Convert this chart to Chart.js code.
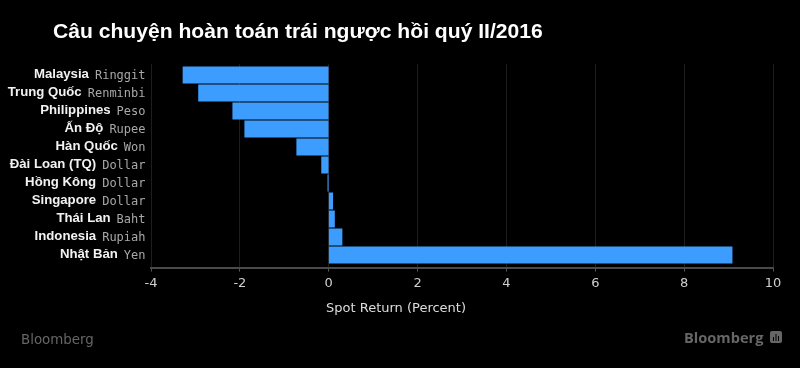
<!DOCTYPE html>
<html lang="vi">
<head>
    <meta charset="UTF-8">
    <title>Câu chuyện hoàn toán trái ngược hồi quý II/2016</title>
    <style>
        html, body { margin: 0; padding: 0; background: #000; }
        canvas { display: block; }
    </style>
</head>
<body>

    <canvas id="myChart" width="800" height="368"></canvas>

    <script src="https://cdnjs.cloudflare.com/ajax/libs/Chart.js/4.4.1/chart.umd.js"></script>
    <script>
        var chartTitle = 'Câu chuyện hoàn toán trái ngược hồi quý II/2016';
        var axisTitle = 'Spot Return (Percent)';
        var countries = ['Malaysia', 'Trung Quốc', 'Philippines', 'Ấn Độ', 'Hàn Quốc', 'Đài Loan (TQ)', 'Hồng Kông', 'Singapore', 'Thái Lan', 'Indonesia', 'Nhật Bản'];
        var currencies = ['Ringgit', 'Renminbi', 'Peso', 'Rupee', 'Won', 'Dollar', 'Dollar', 'Dollar', 'Baht', 'Rupiah', 'Yen'];
        var returns = [-3.28, -2.93, -2.16, -1.89, -0.72, -0.16, -0.02, 0.09, 0.13, 0.3, 9.08];

        // country in white, currency in grey: one tick label can't do two colours
        var extraText = {
            id: 'extraText',
            afterDraw: function (chart) {
                var ctx = chart.ctx;
                var y = chart.scales.y;
                ctx.save();
                ctx.textBaseline = 'middle';
                ctx.textAlign = 'right';
                for (var i = 0; i < countries.length; i++) {
                    var py = y.getPixelForValue(i);
                    ctx.font = '12px "DejaVu Sans Mono"';
                    ctx.fillStyle = '#a8a8a8';
                    ctx.fillText(currencies[i], 145.5, py + 1);
                    var w = ctx.measureText(currencies[i]).width;
                    ctx.font = 'bold 13.2px "Liberation Sans"';
                    ctx.fillStyle = '#f2f2f2';
                    ctx.fillText(countries[i], 145.5 - w - 6, py - 0.5);
                }

                ctx.textAlign = 'left';
                ctx.font = 'bold 21.1px "Liberation Sans"';
                ctx.fillStyle = '#ffffff';
                ctx.fillText(chartTitle, 53, 32);

                // axis title sits left of the plot centre in the original
                ctx.font = '13px "DejaVu Sans"';
                ctx.fillStyle = '#dddddd';
                ctx.fillText(axisTitle, 326, 308.5);

                ctx.fillStyle = '#666666';
                ctx.font = '13.4px "DejaVu Sans"';
                ctx.fillText('Bloomberg', 21, 340.5);
                ctx.font = 'bold 14.6px "Open Sans"';
                ctx.fillText('Bloomberg', 684, 338.5);

                // little logo next to the wordmark
                ctx.beginPath();
                ctx.roundRect(770, 331, 12, 12, 2);
                ctx.fill();
                ctx.fillStyle = '#000';
                ctx.fillRect(773, 337, 1, 4);
                ctx.fillRect(775.5, 334, 1, 7);
                ctx.fillRect(778, 336, 1, 5);
                ctx.restore();
            }
        };

        function createChart() {
            var ctx = document.getElementById('myChart').getContext('2d');
            var myChart = new Chart(ctx, {
                type: 'bar',
                data: {
                    datasets: [{
                        data: returns.map(function (v, i) { return { x: v, y: i }; }),
                        backgroundColor: '#3d9dff',
                        barThickness: 16.5
                    }]
                },
                options: {
                    indexAxis: 'y',
                    responsive: false,
                    animation: false,
                    layout: { padding: { left: 151, right: 27, top: 64.2, bottom: 53 } },
                    plugins: { legend: { display: false }, tooltip: { enabled: false } },
                    scales: {
                        x: {
                            type: 'linear',
                            min: -4,
                            max: 10,
                            afterFit: function (scale) { scale.height = 47.4; },
                            grid: { color: '#1e1e1e', tickColor: '#555555', tickLength: 4 },
                            border: { color: '#4a4a4a', width: 2 },
                            ticks: {
                                stepSize: 2,
                                maxRotation: 0,
                                padding: 4,
                                color: '#cfcfcf',
                                font: { family: 'DejaVu Sans', size: 13 }
                            }
                        },
                        y: {
                            type: 'linear',
                            reverse: true,
                            offset: false,
                            min: -0.6,
                            max: 10.7,
                            display: false
                        }
                    }
                },
                plugins: [extraText]
            });
        }

        createChart();
    </script>

</body>
</html>
